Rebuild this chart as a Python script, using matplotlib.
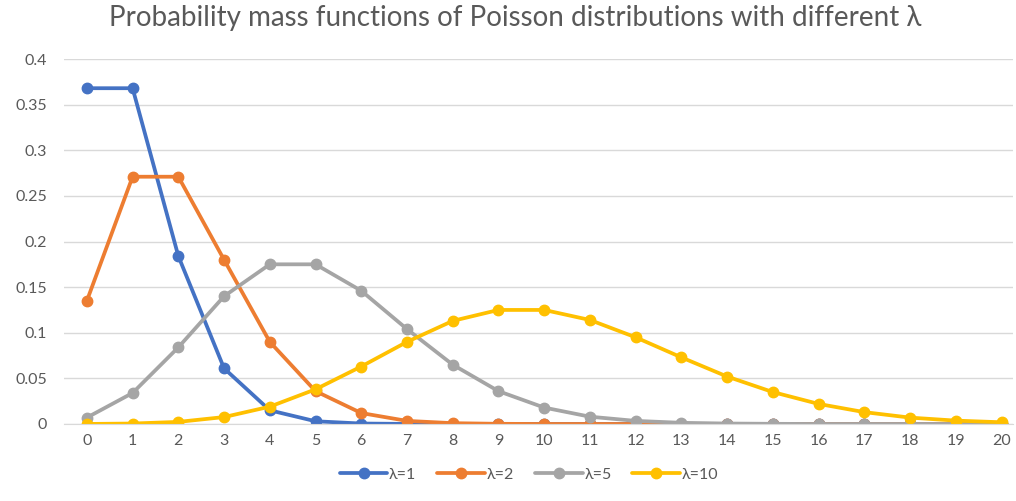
import matplotlib.pyplot as plt
import numpy as np

plt.rcParams['font.family'] = ['Lato', 'DejaVu Sans']

k = list(range(21))
lam1 = [0.368, 0.368, 0.184, 0.061, 0.015, 0.003, 0.0005, 0.0001, 0, 0, 0,
        0, 0, 0, 0, 0, 0, 0, 0, 0, 0]
lam2 = [0.135, 0.271, 0.271, 0.180, 0.090, 0.036, 0.012, 0.0034, 0.0009, 0.0002, 0,
        0, 0, 0, 0, 0, 0, 0, 0, 0, 0]
lam5 = [0.007, 0.034, 0.084, 0.140, 0.175, 0.175, 0.146, 0.104, 0.065, 0.036, 0.018,
        0.008, 0.0034, 0.0013, 0.0005, 0.0002, 0, 0, 0, 0, 0]
lam10 = [0.00005, 0.0005, 0.0023, 0.0076, 0.019, 0.038, 0.063, 0.090, 0.113, 0.125, 0.125,
         0.114, 0.095, 0.073, 0.052, 0.035, 0.022, 0.013, 0.007, 0.0037, 0.0019]
labels = ['λ=1', 'λ=2', 'λ=5', 'λ=10']
colors = ['#4472C4', '#ED7D31', '#A5A5A5', '#FFC000']

fig = plt.figure(figsize=(10.16, 5.01), dpi=100)
ax = fig.add_axes([0.063, 0.1537, 0.934, 0.7285])

for ys, lab, c in zip([lam1, lam2, lam5, lam10], labels, colors):
    ax.plot(k, ys, '-o', color=c, label=lab, linewidth=2.7, markersize=7.5,
            solid_capstyle='round', solid_joinstyle='round')

ax.set_xlim(-0.5, 20.25)
ax.set_ylim(0, 0.4)
ax.set_yticks(np.arange(0, 0.41, 0.05))
ax.set_yticklabels(['0', '0.05', '0.1', '0.15', '0.2', '0.25', '0.3', '0.35', '0.4'])
ax.set_xticks(k)
ax.grid(True, axis='y', color='#D9D9D9', linewidth=1)
ax.set_axisbelow(True)
for s in ['top', 'right', 'left']:
    ax.spines[s].set_visible(False)
ax.spines['bottom'].set_color('#D9D9D9')
ax.tick_params(axis='both', length=0, labelsize=11.5, colors='#595959', pad=7)
ax.tick_params(axis='y', pad=12)

fig.suptitle('Probability mass functions of Poisson distributions with different λ',
             x=0.507, y=0.99, fontsize=20, color='#595959')

ax.legend(loc='upper center', bbox_to_anchor=(0.49, -0.08), ncol=4, frameon=False,
          fontsize=11.5, labelcolor='#595959', handlelength=3.0, handletextpad=0.1,
          columnspacing=1.3)

fig.savefig('out.png', dpi=100)
